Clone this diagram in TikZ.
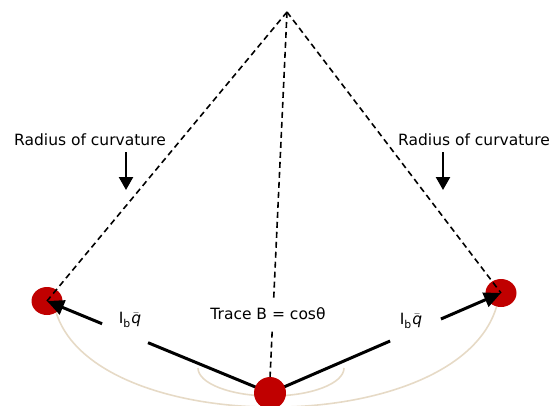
\documentclass[tikz,border=0pt]{standalone}
\usepackage{fontspec}
\setmainfont{DejaVu Sans}
\usetikzlibrary{arrows.meta,calc,shapes.geometric}
\definecolor{ballred}{RGB}{192,0,0}
\definecolor{beige}{RGB}{230,218,198}
\tikzset{
  ball/.style={ellipse,fill=ballred,inner sep=0pt,minimum width=31pt,minimum height=28pt},
  radius/.style={black,line width=1.6pt,dash pattern=on 6pt off 4pt},
  vec/.style={black,line width=3pt},
  vechead/.style={-{Triangle[length=17pt,width=15pt]}},
  guide/.style={beige,line width=1.6pt},
  txt/.style={font=\fontsize{15.5}{18}\selectfont,inner sep=0pt},
  pointer/.style={black,line width=2.4pt,-{Triangle[length=13pt,width=14pt]}}
}
\newcommand{\qbar}{I\textsubscript{b}\kern0.5pt$\bar{\mbox{\itshape q}}$}
\begin{document}
\begin{tikzpicture}[x=1pt,y=-1pt]
  \useasboundingbox (0,0) rectangle (553,405);
  % positions
  \coordinate (apex) at (287,12);
  \coordinate (lpt) at (47,301);
  \coordinate (rpt) at (501,293);
  \coordinate (bpt) at (270,393);
  % beige traces
  \draw[guide] (56,312) .. controls (95,440) and (460,440) .. (497,305);
  \draw[guide] (198,368) arc (180:0:73 and 28);
  % side balls
  \node[ball] (lball) at (lpt) {};
  \node[ball] (rball) at (rpt) {};
  % dashed radii
  \draw[radius] (apex) -- (lball.center);
  \draw[radius] (apex) -- (rball.center);
  \draw[radius] (apex) -- (270,378) coordinate (mtop);
  % vectors with gaps for labels
  \coordinate (lgapA) at ($(bpt)!0.547!(lpt)$);
  \coordinate (lgapB) at ($(bpt)!0.753!(lpt)$);
  \coordinate (rgapA) at ($(bpt)!0.52!(rpt)$);
  \coordinate (rgapB) at ($(bpt)!0.74!(rpt)$);
  \draw[vec] (bpt) -- (lgapA);
  \draw[vec,vechead] (lgapB) -- (lball.center);
  \draw[vec] (bpt) -- (rgapA);
  \draw[vec,vechead] (rgapB) -- (rball.center);
  \node[ball,minimum width=32pt,minimum height=32pt] (bball) at (bpt) {};
  % labels
  \node[txt] (lrad) at (90,140) {Radius of curvature};
  \node[txt] (rrad) at (474,140) {Radius of curvature};
  \coordinate (larr) at (126,190);
  \coordinate (rarr) at (443,190);
  \draw[pointer] ($(lrad.south)+(36,6)$) -- (larr);
  \draw[pointer] ($(rrad.south)+(-31,6)$) -- (rarr);
  \node[txt,fill=white,inner xsep=6pt,inner ysep=10pt] (trace) at (268,314) {Trace B = cosθ};
  \node[txt] (lq) at (130,320) {\qbar};
  \node[txt] (rq) at (411,321) {\qbar};
\end{tikzpicture}
\end{document}
